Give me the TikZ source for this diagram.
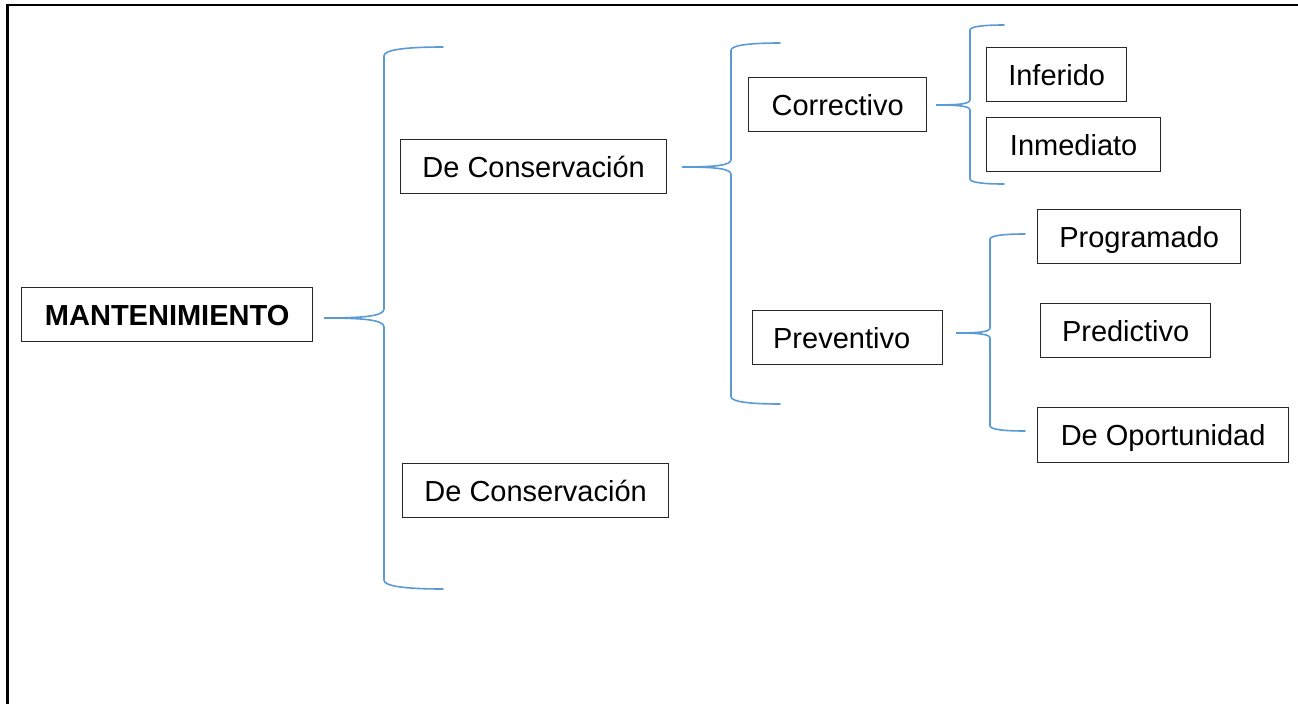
\documentclass[tikz,border=0pt]{standalone}
\usepackage{fontspec}
\setmainfont{Liberation Sans}
\definecolor{bracecol}{RGB}{91,155,213}
\definecolor{boxcol}{RGB}{40,40,40}
\newcommand\mybrace[6]{% point x, point y, vertical x, tip x, top tip y, bottom tip y
  \draw[bracestyle] (#4,#5) .. controls ({#3+0.35*(#4-#3)},#5) and (#3,{#5+0.05*(#4-#3)}) .. (#3,{#5+0.15*(#4-#3)})
    -- (#3,{#2-0.15*(#3-#1)}) .. controls (#3,{#2-0.03*(#3-#1)}) and ({#3-0.35*(#3-#1)},#2) .. (#1,#2)
    .. controls ({#3-0.35*(#3-#1)},#2) and (#3,{#2+0.03*(#3-#1)}) .. (#3,{#2+0.15*(#3-#1)})
    -- (#3,{#6-0.15*(#4-#3)}) .. controls (#3,{#6-0.05*(#4-#3)}) and ({#3+0.35*(#4-#3)},#6) .. (#4,#6);
}
\begin{document}
\begin{tikzpicture}[x=1pt,y=-1pt,
  box/.style={draw=boxcol,line width=1.3pt,anchor=north west,inner sep=0pt,
    font=\fontsize{29pt}{34pt}\selectfont,text height=21pt,text depth=0pt},
  bracestyle/.style={draw=bracecol,line width=1.6pt,line cap=round}]
\useasboundingbox (0,0) rectangle (1298,704);
\draw[line width=2.5pt] (7.5,704) -- (7.5,5) -- (1298,5);
% boxes
\node[box,font=\fontsize{29pt}{34pt}\selectfont\bfseries,minimum width=291pt,minimum height=54pt] (mant) at (21,287) {MANTENIMIENTO};
\node[box,minimum width=266pt,minimum height=54pt] (dc1) at (400,139) {De Conservación};
\node[box,minimum width=266pt,minimum height=54pt] (dc2) at (402,463) {De Conservación};
\node[box,minimum width=178pt,minimum height=54pt] (corr) at (748,77) {Correctivo};
\node[box,minimum width=190pt,minimum height=54pt] (prev) at (752,310) {\hspace{-12pt}Preventivo};
\node[box,minimum width=140pt,minimum height=54pt] (inf) at (986,47) {Inferido};
\node[box,minimum width=174pt,minimum height=54pt] (inm) at (986,117) {Inmediato};
\node[box,minimum width=203pt,minimum height=54pt] (prog) at (1037,209) {Programado};
\node[box,minimum width=170pt,minimum height=54pt] (pred) at (1040,303) {Predictivo};
\node[box,minimum width=251pt,minimum height=55pt] (opor) at (1037,407) {De Oportunidad};
% brace points
\coordinate (pA) at ([xshift=12pt,yshift=-4pt]mant.east);
\coordinate (pB) at ([xshift=16pt,yshift=-1pt]dc1.east);
\coordinate (pC) at ([xshift=10pt,yshift=-1pt]corr.east);
\coordinate (pD) at ([xshift=14pt,yshift=-4pt]prev.east);
% braces
\mybrace{324}{318}{384}{443}{47}{589}
\mybrace{682}{167}{731}{780}{43}{404}
\mybrace{936}{105}{970}{1004}{25}{184}
\mybrace{956}{333}{990}{1025}{234}{431}
\end{tikzpicture}
\end{document}
